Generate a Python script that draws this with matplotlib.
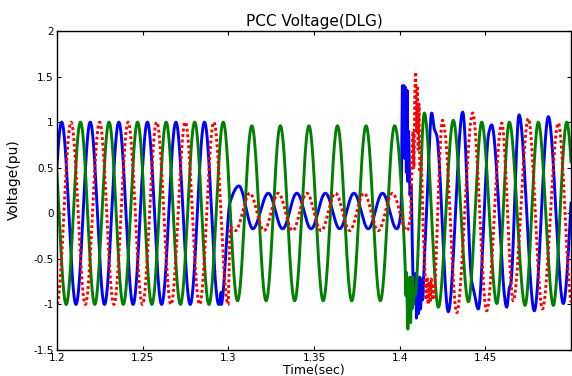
import numpy as np
import matplotlib
matplotlib.use("Agg")
import matplotlib.pyplot as plt

plt.rcParams['font.family'] = ['DejaVu Sans']
plt.rcParams['axes.unicode_minus'] = False

# ---------------- data ----------------
FREQ_HZ = 60.0
title_text = "PCC Voltage(DLG)"
x_label = "Time(sec)"
y_label = "Voltage(pu)"
x_ticks = [1.2, 1.25, 1.3, 1.35, 1.4, 1.45]
x_tick_labels = ["1.2", "1.25", "1.3", "1.35", "1.4", "1.45"]
y_ticks = [-1.5, -1, -0.5, 0, 0.5, 1, 1.5, 2]
y_tick_labels = ["-1.5", "-1", "-0.5", "0", "0.5", "1", "1.5", "2"]

# steady sinusoidal stretches: (start, end, amplitude, time of a crest, dc offset)
blue_steady = [(1.2000, 1.2958, 1.000, 1.20274, 0.000),
               (1.3233, 1.3983, 0.195, 1.32333, 0.025)]
red_steady = [(1.2000, 1.29987, 1.000, 1.20820, 0.000),
              (1.3125, 1.39583, 0.205, 1.32917, 0.015)]
green_steady = [(1.2000, 1.3000, 1.000, 1.21370, 0.000),
                (1.3000, 1.39703, 0.960, 1.21370, 0.000)]

# transient stretches read point by point (time, value)
blue_onset_t = [1.2958, 1.3010, 1.3062, 1.3143, 1.3233]
blue_onset_v = [-1.00, 0.12, 0.30, -0.17, 0.22]
red_onset_t = [1.29987, 1.3010, 1.3042, 1.3125]
red_onset_v = [-1.00, -0.15, -0.19, 0.22]

blue_post_t = [1.3983, 1.4008, 1.4016, 1.4022, 1.4026, 1.4030, 1.4034, 1.4039,
               1.4043, 1.4048, 1.4052, 1.4060, 1.4066, 1.4078, 1.4087, 1.4093,
               1.4098, 1.4104, 1.4110, 1.4116, 1.4122, 1.4128, 1.4134, 1.4142,
               1.4160, 1.4187, 1.4203, 1.4216, 1.4284, 1.4368, 1.4420, 1.4432,
               1.4459, 1.4520, 1.4537, 1.4625, 1.4640, 1.4648, 1.4697, 1.4786,
               1.4868, 1.4955, 1.5039]
blue_post_v = [-0.17, 0.02, 1.40, 0.85, 1.40, 0.60, 1.38, 0.45,
               1.35, 0.35, 0.90, 0.20, 0.30, -0.70, -0.90, -0.66,
               -1.15, -0.75, -1.10, -0.70, -1.05, -0.72, -0.95, -0.60,
               0.15, 1.10, 0.92, 0.86, -1.08, 1.11, -0.74, -0.84,
               -1.05, 0.88, 0.97, -1.03, -0.82, -0.78, 1.08, -1.07,
               1.06, -0.99, 1.00]

red_post_t = [1.39583, 1.4042, 1.4062, 1.4078, 1.4083, 1.4088, 1.4093, 1.4098,
              1.4103, 1.4108, 1.4113, 1.4118, 1.4124, 1.4130, 1.4136, 1.4148,
              1.4154, 1.4160, 1.4166, 1.4172, 1.4178, 1.4184, 1.4190, 1.4196,
              1.4203, 1.4210, 1.4250, 1.4265, 1.4333, 1.4426, 1.4508, 1.4596,
              1.4663, 1.4751, 1.4833, 1.4926, 1.5005, 1.5090]
red_post_v = [0.22, -0.19, -0.05, 0.90, 0.50, 1.30, 1.55, 0.90,
              1.40, 0.70, 1.20, 0.45, 0.60, 0.35, -0.10, -0.65,
              -0.95, -0.70, -1.00, -0.75, -0.98, -0.72, -0.95, -0.80,
              -0.92, -0.60, 1.02, 0.88, -1.09, 1.10, -1.07, 0.99,
              -0.96, 1.04, -1.05, 0.99, -1.00, 1.00]

green_post_t = [1.39703, 1.4031, 1.4036, 1.4040, 1.4045, 1.4048, 1.4052, 1.4056,
                1.4060, 1.4064, 1.4068, 1.4072, 1.4076, 1.4080, 1.4086, 1.4090,
                1.4144, 1.4226, 1.4313, 1.4401, 1.4479, 1.4567, 1.4640, 1.4732,
                1.4809, 1.4897, 1.4975, 1.5058]
green_post_v = [0.96, -0.52, -0.90, -0.65, -1.15, -1.27, -0.80, -1.10,
                -0.70, -1.20, -0.75, -1.05, -0.70, -1.00, -0.85, -0.90,
                1.10, -1.03, 1.02, -0.97, 1.00, -0.99, 1.00, -1.01,
                1.00, -1.01, 1.00, -1.00]


# ---------------- helpers ----------------
def pchip(xk, yk, x):
    xk = np.asarray(xk, float)
    yk = np.asarray(yk, float)
    n = len(xk)
    h = np.diff(xk)
    d = np.diff(yk) / h
    m = np.zeros(n)
    for k in range(1, n - 1):
        if d[k - 1] * d[k] > 0:
            w1 = 2 * h[k] + h[k - 1]
            w2 = h[k] + 2 * h[k - 1]
            m[k] = (w1 + w2) / (w1 / d[k - 1] + w2 / d[k])
    idx = np.clip(np.searchsorted(xk, x, side='right') - 1, 0, n - 2)
    s = (x - xk[idx]) / h[idx]
    h00 = 2 * s**3 - 3 * s**2 + 1
    h10 = s**3 - 2 * s**2 + s
    h01 = -2 * s**3 + 3 * s**2
    h11 = s**3 - s**2
    return (h00 * yk[idx] + h10 * h[idx] * m[idx]
            + h01 * yk[idx + 1] + h11 * h[idx] * m[idx + 1])


def build(t, steady, knot_sets):
    v = np.full_like(t, np.nan)
    for (a, b, amp, tp, dc) in steady:
        mask = (t >= a) & (t < b)
        v[mask] = dc + amp * np.cos(2 * np.pi * FREQ_HZ * (t[mask] - tp))
    for (kt, kv) in knot_sets:
        mask = (t >= kt[0]) & (t <= kt[-1])
        v[mask] = pchip(kt, kv, t[mask])
    return v


t = np.linspace(1.2, 1.5, 30001)
v_blue = build(t, blue_steady, [(blue_onset_t, blue_onset_v), (blue_post_t, blue_post_v)])
v_red = build(t, red_steady, [(red_onset_t, red_onset_v), (red_post_t, red_post_v)])
v_green = build(t, green_steady, [(green_post_t, green_post_v)])

# ---------------- figure ----------------
W, H = 572, 376
fig = plt.figure(figsize=(W / 100, H / 100), dpi=100)
ax = fig.add_axes([57 / W, 1 - 350 / H, (571 - 57) / W, (350 - 31) / H])

ax.plot(t, v_blue, color='#0000FF', lw=2.1, solid_joinstyle='round')
ax.plot(t, v_green, color='#008000', lw=2.1, solid_joinstyle='round')
ax.plot(t, v_red, color='#FF0000', lw=2.1, linestyle=(0, (1, 0.9)))

ax.set_xlim(1.2, 1.5)
ax.set_ylim(-1.5, 2)
ax.set_xticks(x_ticks)
ax.set_xticklabels(x_tick_labels)
ax.set_yticks(y_ticks)
ax.set_yticklabels(y_tick_labels)
ax.tick_params(direction='in', top=True, right=True, length=3, width=0.8,
               labelsize=7.5)
ax.tick_params(axis='x', pad=2)
ax.tick_params(axis='y', pad=2.5)
for sp in ax.spines.values():
    sp.set_linewidth(1.0)

ax.set_title(title_text, fontsize=11, pad=3.5)
ax.set_xlabel(x_label, fontsize=9)
ax.set_ylabel(y_label, fontsize=10)
ax.xaxis.set_label_coords(0.5, -0.0425)
ax.yaxis.set_label_coords(-0.070, 0.533)

fig.savefig("out.png", dpi=100)
